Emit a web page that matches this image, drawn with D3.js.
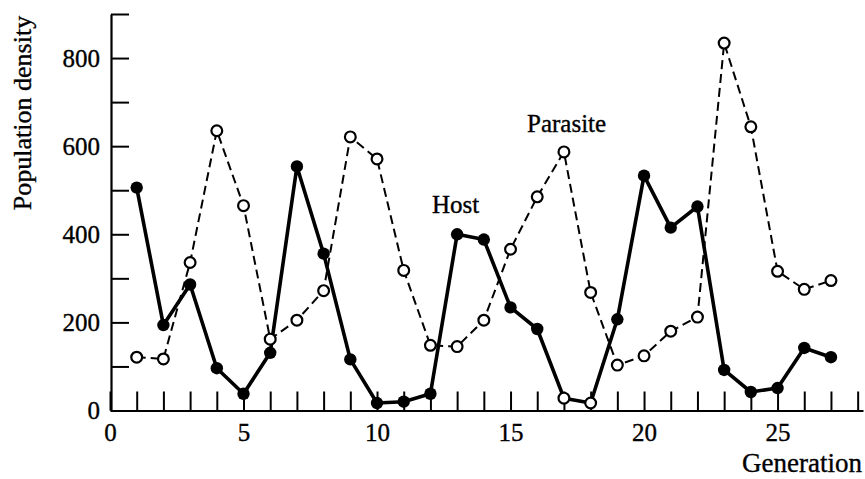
<!DOCTYPE html>
<html>
<head>
<meta charset="utf-8">
<script src="https://cdn.jsdelivr.net/npm/d3@7"></script>
<style>
  html, body { margin: 0; padding: 0; background: #fff; }
  svg { display: block; }
  text { font-family: "Liberation Serif", "Times New Roman", serif; fill: #000; stroke: #000; stroke-width: 0.35px; }
</style>
</head>
<body>
<svg id="chart" width="865" height="479"></svg>
<script>
// ---- data ----
const generations = [1,2,3,4,5,6,7,8,9,10,11,12,13,14,15,16,17,18,19,20,21,22,23,24,25,26,27];
const host =     [506,194,286,96,38,131,554,356,116,17,20,38,400,388,234,185,28,17,207,533,415,463,92,42,51,142,121];
const parasite = [121,117,336,635,465,162,205,272,621,571,318,148,145,205,366,485,587,268,103,124,180,212,834,644,316,275,295];
// host points drawn with open markers in the reference
const hostOpenGenerations = [17, 18];
const xTickValues = [0,1,2,3,4,5,6,7,8,9,10,11,12,13,14,15,16,17,18,19,20,21,22,23,24,25,26,27,28];
const xTickLabels = [0,5,10,15,20,25];
const yTickValues = [0,100,200,300,400,500,600,700,800,900];
const yTickLabels = [0,200,400,600,800];

const svg = d3.select("#chart");

const x = d3.scaleLinear().domain([0, 28.2]).range([110, 863]);
const y = d3.scaleLinear().domain([0, 900]).range([410.5, 14]);

// x axis: ticks pointing up
const xAxis = d3.axisBottom(x)
  .tickValues(xTickValues)
  .tickSize(-19)
  .tickSizeOuter(0)
  .tickPadding(13)
  .tickFormat(d => xTickLabels.includes(d) ? String(d) : "");
const gx = svg.append("g").attr("transform", `translate(0,${y(0)})`).call(xAxis);
gx.select(".domain").attr("stroke", "#000").attr("stroke-width", 2.2);
gx.selectAll(".tick line").attr("stroke", "#000").attr("stroke-width", 2);
gx.selectAll(".tick text").style("font-size", "25px").style("font-family", "Liberation Serif, serif");

// y axis: ticks pointing right
const yAxis = d3.axisLeft(y)
  .tickValues(yTickValues)
  .tickSize(-18)
  .tickSizeOuter(0)
  .tickPadding(11)
  .tickFormat(d => yTickLabels.includes(d) ? String(d) : "");
const gy = svg.append("g").attr("transform", `translate(${x(0) + 1},0)`).call(yAxis);
gy.select(".domain").attr("stroke", "#000").attr("stroke-width", 2.2);
gy.selectAll(".tick line").attr("stroke", "#000").attr("stroke-width", 2);
gy.selectAll(".tick text").style("font-size", "25px").style("font-family", "Liberation Serif, serif");

// lines
const hostPts = generations.map((g, i) => [g, host[i]]);
const parPts = generations.map((g, i) => [g, parasite[i]]);
const line = d3.line().x(d => x(d[0])).y(d => y(d[1]));

svg.append("path").datum(parPts)
  .attr("d", line).attr("fill", "none").attr("stroke", "#000")
  .attr("stroke-width", 2).attr("stroke-dasharray", "9,5");

svg.append("path").datum(hostPts)
  .attr("d", line).attr("fill", "none").attr("stroke", "#000")
  .attr("stroke-width", 3.6).attr("stroke-linejoin", "round");

// markers
svg.append("g").selectAll("circle").data(parPts).join("circle")
  .attr("cx", d => x(d[0])).attr("cy", d => y(d[1])).attr("r", 5.4)
  .attr("fill", "#fff").attr("stroke", "#000").attr("stroke-width", 2.2);

svg.append("g").selectAll("circle").data(hostPts).join("circle")
  .attr("cx", d => x(d[0])).attr("cy", d => y(d[1]))
  .attr("r", d => hostOpenGenerations.includes(d[0]) ? 5.4 : 6.2)
  .attr("fill", d => hostOpenGenerations.includes(d[0]) ? "#fff" : "#000")
  .attr("stroke", "#000")
  .attr("stroke-width", d => hostOpenGenerations.includes(d[0]) ? 2.2 : 0);

// labels
svg.append("text").attr("x", 432).attr("y", 213).style("font-size", "25px").text("Host");
svg.append("text").attr("x", 527).attr("y", 132).style("font-size", "25px").text("Parasite");
svg.append("text").attr("x", 862).attr("y", 472).attr("text-anchor", "end").style("font-size", "27px").text("Generation");
svg.append("text")
  .attr("transform", "translate(31,113) rotate(-90)")
  .attr("text-anchor", "middle").style("font-size", "26px")
  .text("Population density");
</script>
</body>
</html>
